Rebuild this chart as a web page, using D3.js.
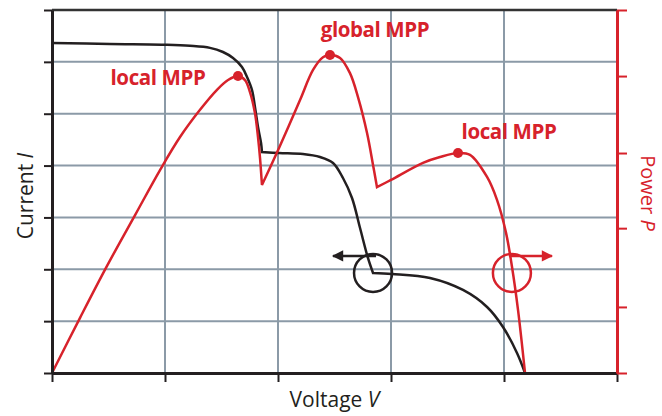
<!DOCTYPE html>
<html>
<head>
<meta charset="utf-8">
<script src="https://cdn.jsdelivr.net/npm/d3@7"></script>
<style>
  body { margin: 0; background: #fff; }
  svg { display: block; font-family: "Open Sans", "Noto Sans", sans-serif; }
</style>
</head>
<body>
<svg id="chart"></svg>
<script>
// I-V curve of the string (voltage and current in grid units)
const ivVoltage = [0, 0.513, 1.018, 1.221, 1.398, 1.513, 1.602, 1.681, 1.726, 1.770, 1.796, 1.823, 1.850, 1.858, 2.009, 2.221, 2.372, 2.487, 2.575, 2.655, 2.726, 2.796, 2.841, 3.009, 3.345, 3.637, 3.850, 3.991, 4.115, 4.186];
const ivCurrent = [6.364, 6.345, 6.33, 6.31, 6.27, 6.190, 6.074, 5.901, 5.708, 5.457, 5.129, 4.744, 4.435, 4.261, 4.242, 4.223, 4.165, 4.050, 3.760, 3.375, 2.796, 2.218, 1.928, 1.909, 1.832, 1.601, 1.273, 0.887, 0.386, 0];
const ivCorners = [13, 22];

// P-V curve (power in % of the right axis)
const pvVoltage = [0, 0.248, 0.487, 0.735, 0.956, 1.133, 1.310, 1.460, 1.558, 1.646, 1.708, 1.752, 1.796, 1.823, 1.841, 1.858, 2.009, 2.195, 2.310, 2.398, 2.460, 2.549, 2.637, 2.708, 2.788, 2.841, 2.876, 3.0, 3.283, 3.434, 3.593, 3.699, 3.850, 3.938, 4.018, 4.071, 4.124, 4.186];
const pvPower = [0, 15.2, 29.5, 43.5, 55.9, 65.0, 72.5, 78.0, 80.7, 81.8, 80.7, 77.4, 71.6, 65.0, 59.2, 51.8, 62.0, 75.2, 83.5, 87.0, 87.6, 86.8, 82.6, 76.0, 66.1, 57.3, 51.2, 53.2, 57.9, 59.5, 60.6, 60.1, 54.0, 47.7, 38.6, 29.2, 17.4, 0];
const pvCorners = [15, 26];

// maximum power points
const mppLabels = ["local MPP", "global MPP", "local MPP"];
const mppVoltage = [1.646, 2.460, 3.593];
const mppPower = [81.8, 87.6, 60.6];

// tick positions
const voltageTicks = [0, 1, 2, 3, 4, 5];
const currentTicks = [0, 1, 2, 3, 4, 5, 6, 7];
const powerTicks = [0, 18.2, 39.9, 60.6, 81.8, 100];

const red = '#d7222b';
const ink = '#231f20';
const gridColor = '#8b9aa7';

const width = 662, height = 416;
const margin = {top: 10, right: 45, bottom: 43, left: 52};
const innerW = width - margin.left - margin.right;
const innerH = height - margin.top - margin.bottom;

const svg = d3.select('#chart')
    .attr('width', width)
    .attr('height', height);

const xScale = d3.scaleLinear().domain([0, 5]).range([0, innerW]);
const yScale = d3.scaleLinear().domain([0, 7]).range([innerH, 0]);
const pScale = d3.scaleLinear().domain([0, 100]).range([innerH, 0]);

const chart = svg.append('g')
    .attr('transform', `translate(${margin.left},${margin.top})`);

// grid
chart.append('g').selectAll('line')
    .data(voltageTicks.slice(1, -1))
    .join('line')
    .attr('x1', d => xScale(d)).attr('x2', d => xScale(d))
    .attr('y1', 0).attr('y2', innerH)
    .attr('stroke', gridColor).attr('stroke-width', 2);

chart.append('g').selectAll('line')
    .data(currentTicks.slice(1, -1))
    .join('line')
    .attr('x1', 0).attr('x2', innerW)
    .attr('y1', d => yScale(d)).attr('y2', d => yScale(d))
    .attr('stroke', gridColor).attr('stroke-width', 2);

// top border
chart.append('line')
    .attr('x1', 0).attr('x2', innerW)
    .attr('y1', yScale(7)).attr('y2', yScale(7))
    .attr('stroke', '#333').attr('stroke-width', 2.5);

// split a curve at its sharp corners (bypass diode kicks in) so each piece stays smooth
function pieces(data, corners) {
  const cuts = [0, ...corners, data.length - 1];
  return d3.pairs(cuts).map(([a, b]) => data.slice(a, b + 1));
}

const ivData = ivVoltage.map((v, i) => ({v, c: ivCurrent[i]}));
const pvData = pvVoltage.map((v, i) => ({v, p: pvPower[i]}));

const ivLine = d3.line().x(d => xScale(d.v)).y(d => yScale(d.c)).curve(d3.curveCatmullRom.alpha(0.5));
const pvLine = d3.line().x(d => xScale(d.v)).y(d => pScale(d.p)).curve(d3.curveCatmullRom.alpha(0.5));

chart.append('path')
    .attr('fill', 'none')
    .attr('stroke', ink)
    .attr('stroke-width', 2.5)
    .attr('stroke-linejoin', 'miter')
    .attr('d', pieces(ivData, ivCorners).map(ivLine).map((s, i) => i ? 'L' + s.slice(1) : s).join(''));

chart.append('path')
    .attr('fill', 'none')
    .attr('stroke', red)
    .attr('stroke-width', 2.5)
    .attr('stroke-linejoin', 'miter')
    .attr('d', pieces(pvData, pvCorners).map(pvLine).map((s, i) => i ? 'L' + s.slice(1) : s).join(''));

// MPP markers + labels
const mppData = mppLabels.map((t, i) => ({t, v: mppVoltage[i], p: mppPower[i]}));
chart.selectAll('circle.mpp')
    .data(mppData)
    .join('circle')
    .attr('class', 'mpp')
    .attr('cx', d => xScale(d.v))
    .attr('cy', d => pScale(d.p))
    .attr('r', 5)
    .attr('fill', red);

const labelOffset = [{dx: -80, dy: 9}, {dx: 45, dy: -18}, {dx: 51, dy: -14}];
chart.selectAll('text.mpp')
    .data(mppData)
    .join('text')
    .attr('class', 'mpp')
    .attr('x', (d, i) => xScale(d.v) + labelOffset[i].dx)
    .attr('y', (d, i) => pScale(d.p) + labelOffset[i].dy)
    .attr('text-anchor', 'middle')
    .attr('fill', red)
    .attr('font-weight', 700)
    .attr('font-size', 20.5)
    .style('letter-spacing', '-0.4px')
    .text(d => d.t);

// curve hints: a circle on each curve with an arrow to the axis it belongs to
const defs = svg.append('defs');
[['arrowBlack', ink], ['arrowRed', red]].forEach(([id, col]) => {
  defs.append('marker')
      .attr('id', id)
      .attr('viewBox', '0 0 10 10')
      .attr('refX', 9).attr('refY', 5)
      .attr('markerWidth', 5).attr('markerHeight', 4.5)
      .attr('markerUnits', 'strokeWidth')
      .attr('orient', 'auto')
    .append('path')
      .attr('d', 'M0,0 L10,5 L0,10 Z')
      .attr('fill', col);
});

const hintV = [2.841, 4.07];
const hintC = 1.93;
const hintCol = [ink, red];
const hintDir = [-1, 1];
hintV.forEach((v, i) => {
  const cx = xScale(v), cy = yScale(hintC);
  chart.append('circle')
      .attr('cx', cx).attr('cy', cy).attr('r', 19)
      .attr('fill', 'none')
      .attr('stroke', hintCol[i]).attr('stroke-width', 2.5);
  chart.append('line')
      .attr('x1', cx - hintDir[i] * 3).attr('x2', cx + hintDir[i] * 40)
      .attr('y1', cy - 17).attr('y2', cy - 17)
      .attr('stroke', hintCol[i]).attr('stroke-width', 2.5)
      .attr('marker-end', `url(#${i === 0 ? 'arrowBlack' : 'arrowRed'})`);
});

// axes
const xAxis = d3.axisBottom(xScale).tickValues(voltageTicks).tickSize(9).tickSizeOuter(0).tickFormat('');
const yAxis = d3.axisLeft(yScale).tickValues(currentTicks).tickSize(8).tickSizeOuter(0).tickFormat('');
const pAxis = d3.axisRight(pScale).tickValues(powerTicks).tickSize(10).tickSizeOuter(0).tickFormat('');

const xAxisG = chart.append('g')
    .attr('transform', `translate(0,${innerH})`)
    .call(xAxis);
xAxisG.select('.domain').attr('stroke', ink).attr('stroke-width', 3);
xAxisG.selectAll('.tick line').attr('stroke', ink).attr('stroke-width', 2);

const yAxisG = chart.append('g').call(yAxis);
yAxisG.select('.domain').attr('stroke', ink).attr('stroke-width', 3);
yAxisG.selectAll('.tick line').attr('stroke', ink).attr('stroke-width', 2);

const pAxisG = chart.append('g')
    .attr('transform', `translate(${innerW},0)`)
    .call(pAxis);
pAxisG.select('.domain').attr('stroke', red).attr('stroke-width', 3);
pAxisG.selectAll('.tick line').attr('stroke', red).attr('stroke-width', 2);

// axis titles
const xTitle = svg.append('text')
    .attr('x', margin.left + innerW / 2)
    .attr('y', 407)
    .attr('text-anchor', 'middle')
    .attr('font-size', 21)
    .attr('fill', ink);
xTitle.append('tspan').text('Voltage ');
xTitle.append('tspan').attr('font-style', 'italic').text('V');

const yTitle = svg.append('text')
    .attr('transform', 'translate(33,196) rotate(-90)')
    .attr('text-anchor', 'middle')
    .attr('font-size', 21)
    .attr('fill', ink);
yTitle.append('tspan').text('Current ');
yTitle.append('tspan').attr('font-style', 'italic').text('I');

const pTitle = svg.append('text')
    .attr('transform', 'translate(641,193) rotate(90)')
    .attr('text-anchor', 'middle')
    .attr('font-size', 20)
    .attr('fill', red);
pTitle.append('tspan').text('Power ');
pTitle.append('tspan').attr('font-style', 'italic').text('P');
</script>
</body>
</html>
